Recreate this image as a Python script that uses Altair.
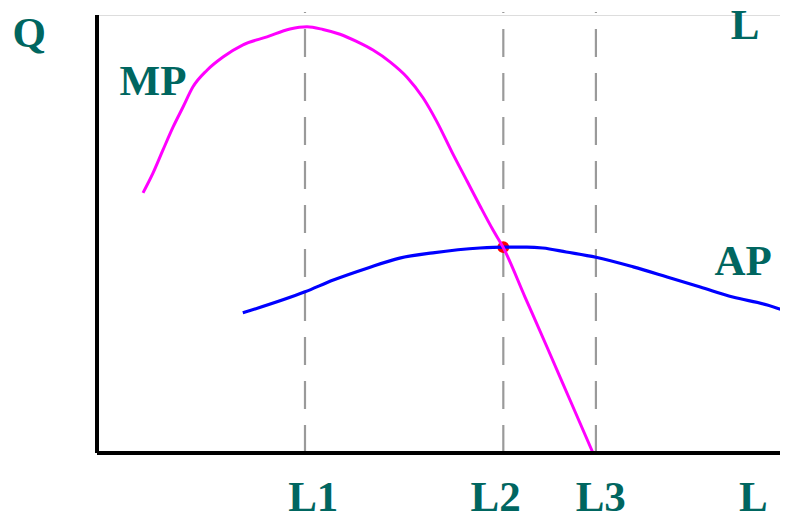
import altair as alt
import pandas as pd

# MP curve (marginal product)
mp_x = [6.66, 8.10, 9.55, 11.0, 12.45, 13.89, 15.92, 18.23, 21.13, 24.6, 27.93, 30.39, 32.7,
        35.17, 37.63, 39.94, 42.4, 44.86, 47.18, 49.2, 51.37, 53.55, 55.43, 57.31, 58.76,
        61.94, 65.12, 68.45, 71.78]
mp_y = [59.4, 63.9, 69.2, 74.4, 79.0, 83.6, 87.4, 90.4, 93.2, 95.0, 96.8, 97.3, 96.7,
        95.6, 93.9, 92.0, 89.3, 85.8, 81.1, 75.6, 68.7, 62.1, 56.4, 50.9, 47.0,
        35.6, 24.2, 12.1, 0.0]

# AP curve (average product)
ap_x = [21.1, 30.1, 34.2, 39.1, 43.8, 48.6, 55.4, 58.8, 62.2, 64.5, 67.9, 72.2,
        77.6, 82.5, 87.3, 92.0, 97.0, 100.0]
ap_y = [32.0, 36.8, 39.5, 42.2, 44.5, 45.7, 46.8, 47.0, 47.0, 46.8, 45.9, 44.7,
        42.5, 40.2, 37.9, 35.6, 33.8, 32.2]

# reference levels of labour
l_marks = [30.1, 58.8, 72.2]
l_top = [100.7, 100.7, 100.7]

# intersection point MP = AP
cross_x = [58.8]
cross_y = [47.0]

# text labels
label_text = ["Q", "MP", "L", "AP", "L1", "L2", "L3", "L"]
label_x = [-9.8, 8.1, 93.8, 93.5, 31.3, 57.7, 72.9, 95.0]
label_y = [92.7, 81.7, 94.5, 40.6, -13.3, -13.3, -13.3, -13.3]

xs = alt.Scale(domain=[0, 98.84], nice=False, zero=False)
ys = alt.Scale(domain=[0, 100], nice=False, zero=False)

mp_df = pd.DataFrame({"x": mp_x, "y": mp_y})
ap_df = pd.DataFrame({"x": ap_x, "y": ap_y})
lm_df = pd.DataFrame({"x": l_marks, "y0": [0] * len(l_marks), "y1": l_top})
cr_df = pd.DataFrame({"x": cross_x, "y": cross_y})
lb_df = pd.DataFrame({"t": label_text, "x": label_x, "y": label_y})
ax_df = pd.DataFrame({"x0": [0.0], "x1": [100.0], "y0": [0.0], "y1": [100.0]})

dashes = alt.Chart(lm_df).mark_rule(color="#9a9a9a", strokeWidth=2.2, strokeDash=[28, 16]).encode(
    x=alt.X("x:Q", scale=xs, axis=None),
    y=alt.Y("y0:Q", scale=ys, axis=None),
    y2="y1:Q",
)

yaxis = alt.Chart(ax_df).mark_rule(color="black", strokeWidth=4).encode(
    x=alt.X("x0:Q", scale=xs, axis=None),
    y=alt.Y("y0:Q", scale=ys, axis=None),
    y2="y1:Q",
)
xaxis = alt.Chart(ax_df).mark_rule(color="black", strokeWidth=4).encode(
    x=alt.X("x0:Q", scale=xs, axis=None),
    x2="x1:Q",
    y=alt.Y("y0:Q", scale=ys, axis=None),
)

ap_line = alt.Chart(ap_df).mark_line(color="#0000ff", strokeWidth=3.2, interpolate="monotone").encode(
    x=alt.X("x:Q", scale=xs, axis=None),
    y=alt.Y("y:Q", scale=ys, axis=None),
)
mp_line = alt.Chart(mp_df).mark_line(color="#ff00ff", strokeWidth=3, interpolate="monotone").encode(
    x=alt.X("x:Q", scale=xs, axis=None),
    y=alt.Y("y:Q", scale=ys, axis=None),
)
cross = alt.Chart(cr_df).mark_circle(color="#ff0000", size=140, opacity=1).encode(
    x=alt.X("x:Q", scale=xs, axis=None),
    y=alt.Y("y:Q", scale=ys, axis=None),
)

labels = alt.Chart(lb_df).mark_text(
    font="Liberation Serif", fontWeight="bold", fontSize=43, color="#006660",
    align="center", baseline="alphabetic",
).encode(
    x=alt.X("x:Q", scale=xs, axis=None),
    y=alt.Y("y:Q", scale=ys, axis=None),
    text="t:N",
)

chart = alt.layer(dashes, cross, ap_line, mp_line, yaxis, xaxis, labels).properties(
    width=683,
    height=438,
    autosize=alt.AutoSizeParams(type="none"),
    padding={"left": 89, "top": 7, "right": 0, "bottom": 59},
).configure_view(stroke=None).configure(background="white")

chart.save("out.html", embed_options={"renderer": "svg", "actions": False})
